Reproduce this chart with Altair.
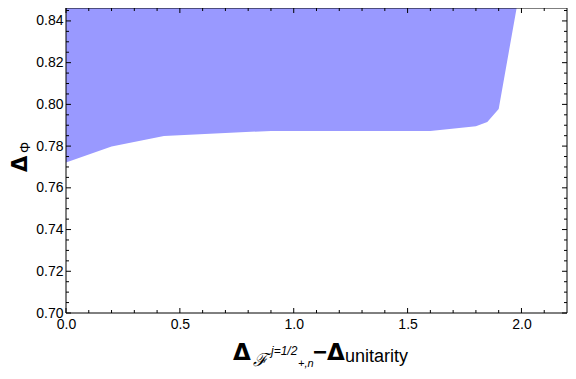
import altair as alt
import pandas as pd

# Boundary of the allowed region (region lies above the curve)
bound_x = [0.0, 0.2, 0.43, 0.9, 1.2, 1.6, 1.8, 1.85, 1.90, 1.985]
bound_y = [0.7722, 0.7798, 0.7849, 0.7873, 0.7873, 0.7872, 0.7895, 0.7915, 0.7978, 0.85]
region_top = 0.85

# Tick positions
x_major = [0.0, 0.5, 1.0, 1.5, 2.0]
x_minor = [0.1, 0.2, 0.3, 0.4, 0.6, 0.7, 0.8, 0.9, 1.1, 1.2, 1.3, 1.4,
           1.6, 1.7, 1.8, 1.9, 2.1]
y_major = [0.70, 0.72, 0.74, 0.76, 0.78, 0.80, 0.82, 0.84]
y_minor = [0.705, 0.71, 0.715, 0.725, 0.73, 0.735, 0.745, 0.75, 0.755,
           0.765, 0.77, 0.775, 0.785, 0.79, 0.795, 0.805, 0.81, 0.815,
           0.825, 0.83, 0.835, 0.845]

W, H = 501, 305
FONT = "Liberation Sans"

xs = alt.Scale(domain=[0, 2.2], nice=False, zero=False)
ys = alt.Scale(domain=[0.70, 0.8462], nice=False, zero=False)

df = pd.DataFrame({"x": bound_x, "y": bound_y, "top": [region_top] * len(bound_x)})

x_axis = alt.Axis(values=x_major, format=".1f", title=None, ticks=False, tickSize=0,
                  domain=False, grid=False, labelFlush=False, labelPadding=4,
                  labelFontSize=14, labelFont=FONT, labelColor="black")
y_axis = alt.Axis(values=y_major, format=".2f", title=None, ticks=False, tickSize=0,
                  domain=False, grid=False, labelFlush=False, labelPadding=3,
                  labelFontSize=14, labelFont=FONT, labelColor="black")

area = alt.Chart(df).mark_area(color="#9999ff", opacity=1, clip=True).encode(
    x=alt.X("x:Q", scale=xs, axis=x_axis, title=None),
    y=alt.Y("y:Q", scale=ys, axis=y_axis, title=None),
    y2=alt.Y2("top:Q"),
)

def xticks(vals, length):
    d = pd.DataFrame({"x": vals})
    b = alt.Chart(d).mark_rule(color="black", strokeWidth=1).encode(
        x=alt.X("x:Q", scale=xs, axis=x_axis, title=None), y=alt.value(H), y2=alt.value(H - length))
    t = alt.Chart(d).mark_rule(color="black", strokeWidth=1).encode(
        x=alt.X("x:Q", scale=xs, axis=x_axis, title=None), y=alt.value(0), y2=alt.value(length))
    return [b, t]

def yticks(vals, length):
    d = pd.DataFrame({"y": vals})
    l = alt.Chart(d).mark_rule(color="black", strokeWidth=1).encode(
        y=alt.Y("y:Q", scale=ys, axis=y_axis, title=None), x=alt.value(0), x2=alt.value(length))
    r = alt.Chart(d).mark_rule(color="black", strokeWidth=1).encode(
        y=alt.Y("y:Q", scale=ys, axis=y_axis, title=None), x=alt.value(W), x2=alt.value(W - length))
    return [l, r]

one = alt.Data(values=[{}])
frame = alt.Chart(one).mark_rect(filled=False, stroke="black", strokeWidth=1).encode(
    x=alt.value(0), x2=alt.value(W), y=alt.value(0), y2=alt.value(H))

def txt(s, x, y, size, weight="normal", style="normal", font=FONT, angle=0):
    return alt.Chart(one).mark_text(
        text=s, font=font, fontSize=size, fontWeight=weight, fontStyle=style,
        align="left", baseline="alphabetic", color="black", angle=angle,
    ).encode(x=alt.value(x), y=alt.value(y))

titles = [
    txt("Δ", 167, 352, 23, weight="bold", font="DejaVu Sans"),
    txt("ℱ", 187, 358, 18, style="italic", font="DejaVu Serif"),
    txt("j=1/2", 205, 347, 12, style="italic"),
    txt("+,n", 232, 359, 11, style="italic"),
    txt("−", 247, 352, 24, weight="bold"),
    txt("Δ", 261, 352, 23, weight="bold", font="DejaVu Sans"),
    txt("unitarity", 279, 354, 18),
    txt("Δ", -39, 164, 21, weight="bold", font="DejaVu Sans", angle=270),
    txt("Φ", -36, 145, 14, angle=270),
]

layers = [area] + xticks(x_major, 5) + xticks(x_minor, 3) + yticks(y_major, 5) + yticks(y_minor, 3) + [frame] + titles

chart = alt.layer(*layers).properties(
    width=W, height=H,
    padding={"left": 58, "top": 0, "right": 1, "bottom": 60},
    autosize=alt.AutoSizeParams(type="none"),
).configure_view(strokeWidth=0)

chart.save("out.html", embed_options={"renderer": "svg", "actions": False})
